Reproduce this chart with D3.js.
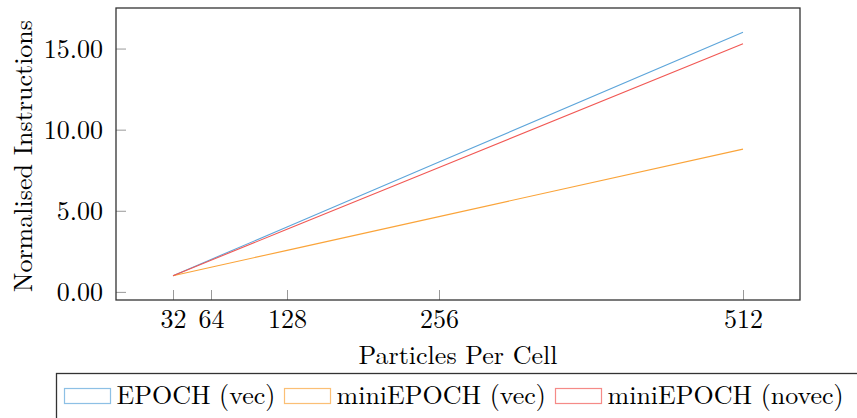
<!DOCTYPE html>
<html><head><meta charset="utf-8">
<script src="https://cdn.jsdelivr.net/npm/d3@7"></script>
<style>body{margin:0;background:#fff}svg{display:block}</style>
</head><body>
<script>
const ppc = [32, 64, 128, 256, 512];
const epochVec = [1, 2, 4, 8, 16];
const miniVec = [1, 1.52, 2.56, 4.64, 8.8];
const miniNovec = [1, 1.95, 3.86, 7.67, 15.3];
const seriesNames = ["EPOCH (vec)", "miniEPOCH (vec)", "miniEPOCH (novec)"];
const seriesColors = ["#5DA5DA", "#FAA43A", "#F15854"];
const yTicks = [0, 5, 10, 15];

const FONT = "'Latin Modern Roman', 'CMU Serif', serif";
const W = 857, H = 418;
const m = {l: 116, r: 800, t: 8, b: 300};
const svg = d3.select("body").append("svg").attr("width", W).attr("height", H)
  .style("font-family", FONT);
const x = d3.scaleLinear().domain([-16, 560]).range([m.l, m.r]);
const y = d3.scaleLinear().domain([-0.5, 17.5]).range([m.b, m.t]);

const fs = 26;
const xa = svg.append("g").attr("transform", `translate(0,${m.b})`)
  .call(d3.axisBottom(x).tickValues(ppc).tickSize(-10).tickPadding(10).tickFormat(d3.format("d")));
const ya = svg.append("g").attr("transform", `translate(${m.l},0)`)
  .call(d3.axisLeft(y).tickValues(yTicks).tickSize(-10).tickPadding(13).tickFormat(d3.format(".2f")));
[xa, ya].forEach(a => {
  a.attr("font-family", null).attr("font-size", null);
  a.select(".domain").remove();
  a.selectAll(".tick line").attr("stroke", "#999").attr("stroke-width", 1);
  a.selectAll(".tick text").style("font-family", FONT).style("font-size", fs + "px").attr("fill", "#000");
});
xa.selectAll(".tick text").attr("dy", null).attr("y", 28);
ya.selectAll(".tick text").attr("dy", null).attr("y", 9);

const series = [epochVec, miniVec, miniNovec];
const line = d3.line().x((d, i) => x(ppc[i])).y(d => y(d));
series.forEach((s, k) => {
  svg.append("path").datum(s).attr("d", line).attr("fill", "none")
    .attr("stroke", seriesColors[k]).attr("stroke-width", 1.1);
});

svg.append("rect").attr("x", m.l).attr("y", m.t).attr("width", m.r - m.l).attr("height", m.b - m.t)
  .attr("fill", "none").attr("stroke", "#333").attr("stroke-width", 1.3);

svg.append("text").attr("x", 458).attr("y", 364).attr("text-anchor", "middle")
  .style("font-family", FONT).style("font-size", fs + "px").text("Particles Per Cell");
svg.append("text").attr("transform", `translate(32,${(m.t + m.b) / 2 + 2}) rotate(-90)`)
  .attr("text-anchor", "middle").style("font-family", FONT).style("font-size", fs + "px").text("Normalised Instructions");

svg.append("rect").attr("x", 56.5).attr("y", 373.5).attr("width", 820).attr("height", 60)
  .attr("fill", "none").attr("stroke", "#333").attr("stroke-width", 1.3);
const legX = [64.5, 284.5, 555.5];
seriesNames.forEach((n, k) => {
  svg.append("rect").attr("x", legX[k]).attr("y", 388.5).attr("width", 46).attr("height", 15)
    .attr("fill", "none").attr("stroke", seriesColors[k]).attr("stroke-opacity", 0.7).attr("stroke-width", 1.2);
  svg.append("text").attr("x", legX[k] + 52).attr("y", 404).style("font-family", FONT)
    .style("font-size", fs + "px").text(n);
});
</script>
</body></html>
